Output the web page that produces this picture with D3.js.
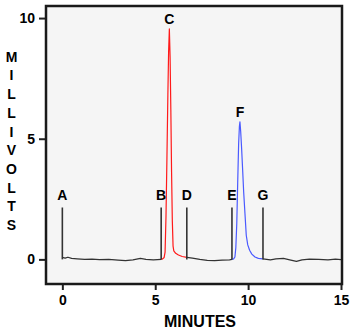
<!DOCTYPE html>
<html>
<head>
<meta charset="utf-8">
<script src="https://cdn.jsdelivr.net/npm/d3@7"></script>
<style>
  html, body { margin: 0; padding: 0; background: #ffffff; }
  svg { display: block; }
  text { font-family: "Liberation Sans", Arial, sans-serif; font-weight: bold; fill: #000; }
</style>
</head>
<body>
<svg id="chart" width="354" height="334"></svg>
<script>
// ---- data (minutes, millivolts) ----
const baselineStart = [[0,0.08],[0.15,0.05],[0.3,0.09],[0.5,0.04],[0.8,0.02],[1.2,0.0],[1.6,0.01],[2.0,-0.01],[2.5,0.0],[3.0,-0.03],[3.4,-0.05],[3.8,-0.02],[4.2,0.04],[4.5,0.0],[4.9,-0.02],[5.32,0.0]];
const peakC = [[5.32,0.0],[5.40,0.02],[5.48,0.08],[5.53,0.3],[5.58,1.8],[5.63,4.2],[5.68,6.8],[5.72,8.6],[5.76,9.55],[5.80,8.4],[5.84,6.2],[5.88,3.6],[5.92,1.6],[5.96,0.55],[6.00,0.35],[6.10,0.25],[6.25,0.18],[6.45,0.12],[6.70,0.08]];
const baselineMid = [[6.70,0.08],[7.0,0.05],[7.4,0.0],[7.8,-0.04],[8.2,-0.05],[8.6,-0.03],[9.0,-0.02],[9.13,0.0]];
const peakF = [[9.13,0.0],[9.22,0.02],[9.29,0.1],[9.34,0.5],[9.39,1.5],[9.44,3.2],[9.49,4.8],[9.53,5.5],[9.56,5.7],[9.60,5.3],[9.65,4.6],[9.70,3.8],[9.76,2.8],[9.83,1.9],[9.90,1.0],[9.98,0.6],[10.08,0.38],[10.2,0.22],[10.37,0.1],[10.55,0.04],[10.8,0.02]];
const baselineEnd = [[10.8,0.02],[11.2,-0.02],[11.5,0.02],[11.9,0.04],[12.3,-0.03],[12.6,-0.08],[12.9,-0.02],[13.3,0.01],[13.8,0.0],[14.3,-0.02],[14.7,0.01],[15.0,-0.01]];

const markerLabels = ["A","B","D","E","G"];
const markerTimes = [0, 5.32, 6.70, 9.13, 10.8];
const markerHeight = 2.15;
const peakLabels = ["C","F"];
const peakTimes = [5.76, 9.56];
const peakHeights = [9.55, 5.7];

const xTicks = [0, 5, 10, 15];
const yTicks = [0, 5, 10];
const xTitle = "MINUTES";
const yTitle = "MILLIVOLTS";

// ---- layout ----
const svg = d3.select("#chart");
const x = d3.scaleLinear().domain([-0.88, 15]).range([46, 341]);
const y = d3.scaleLinear().domain([-1.02, 10.5]).range([284, 6]);

// plot background
svg.append("rect")
  .attr("x", 46).attr("y", 6)
  .attr("width", 342 - 46).attr("height", 284 - 6)
  .attr("fill", "#f5f5f5");

// axes
const yAxis = svg.append("g").attr("transform", "translate(46,0)")
  .call(d3.axisLeft(y).tickValues(yTicks).tickSize(7).tickPadding(4).tickFormat(d3.format("d")));
const xAxis = svg.append("g").attr("transform", "translate(0,284)")
  .call(d3.axisBottom(x).tickValues(xTicks).tickSize(6).tickPadding(5).tickFormat(d3.format("d")));
[yAxis, xAxis].forEach(g => {
  g.select(".domain").remove();
  g.selectAll(".tick line").attr("stroke", "#222").attr("stroke-width", 2);
  g.selectAll(".tick text").attr("font-size", 14).attr("fill", "#000")
    .attr("font-family", "'Liberation Sans', Arial, sans-serif").attr("font-weight", "bold");
});

// trace
const line = d3.line().x(d => x(d[0])).y(d => y(d[1]));
const segs = [
  [baselineStart, "#333333"],
  [peakC, "#ff1a1a"],
  [baselineMid, "#333333"],
  [peakF, "#4a5aff"],
  [baselineEnd, "#333333"]
];
segs.forEach(([data, col]) => {
  svg.append("path").datum(data)
    .attr("d", line)
    .attr("fill", "none")
    .attr("stroke", col)
    .attr("stroke-width", 1.2)
    .attr("stroke-linejoin", "round");
});

// markers
markerTimes.forEach((t, i) => {
  svg.append("line")
    .attr("x1", x(t)).attr("x2", x(t))
    .attr("y1", y(0)).attr("y2", y(markerHeight))
    .attr("stroke", "#333").attr("stroke-width", 1.6);
  svg.append("text")
    .attr("x", x(t)).attr("y", y(markerHeight) - 8)
    .attr("text-anchor", "middle").attr("font-size", 14)
    .text(markerLabels[i]);
});
peakTimes.forEach((t, i) => {
  svg.append("text")
    .attr("x", x(t)).attr("y", y(peakHeights[i]) - 5)
    .attr("text-anchor", "middle").attr("font-size", 14)
    .text(peakLabels[i]);
});

// frame
svg.append("rect")
  .attr("x", 46).attr("y", 6)
  .attr("width", 342 - 46).attr("height", 284 - 6)
  .attr("fill", "none").attr("stroke", "#1a1a1a").attr("stroke-width", 2.5);

// axis titles
svg.append("text")
  .attr("x", 200).attr("y", 327)
  .attr("text-anchor", "middle").attr("font-size", 16)
  .text(xTitle);
const yt = svg.append("text").attr("text-anchor", "middle").attr("font-size", 14);
yTitle.split("").forEach((ch, i) => {
  yt.append("tspan")
    .attr("x", 11.5)
    .attr("y", 56.7 + i * 18.7 + 5)
    .text(ch);
});
</script>
</body>
</html>
